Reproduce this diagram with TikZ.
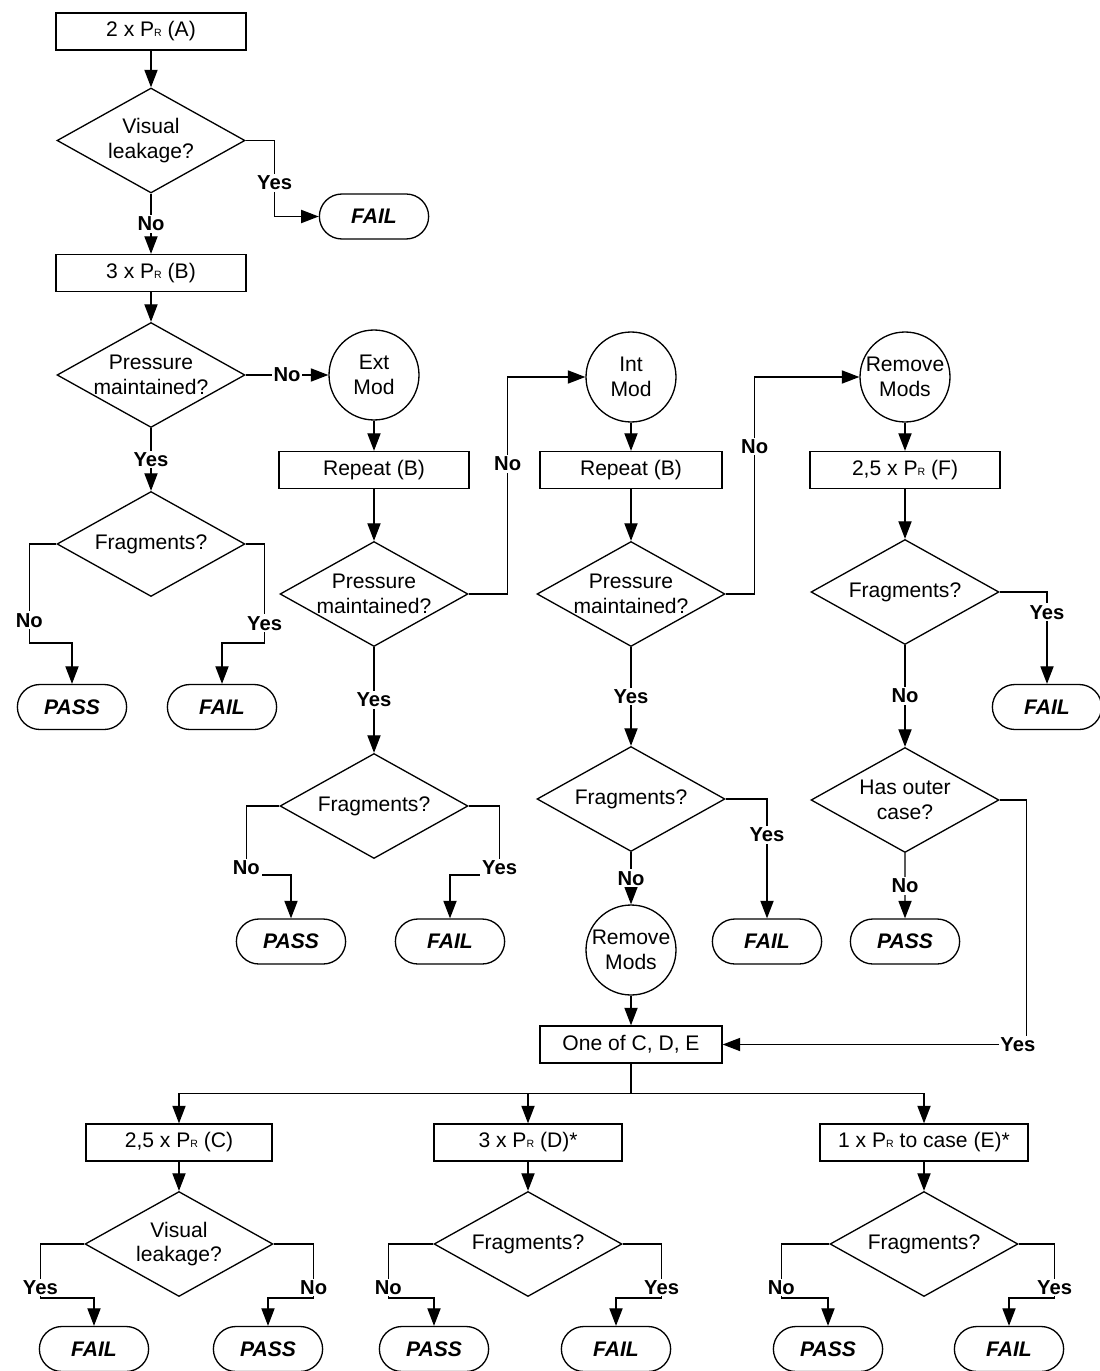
\documentclass[tikz,border=0pt]{standalone}
\usepackage{fontspec}
\setmainfont{Liberation Sans}
\usetikzlibrary{shapes.geometric,shapes.misc,arrows.meta,positioning,calc}

\newcommand{\pR}{P{\fontsize{6}{6}\selectfont R}}

\tikzset{
    box/.style={rectangle, draw, minimum width=3.8cm, minimum height=0.74cm, inner sep=1pt},
    term/.style={rounded rectangle, draw, minimum width=2.42cm, minimum height=0.9cm, font=\fontsize{12}{14}\selectfont\bfseries\itshape},
    dec/.style={diamond, draw, minimum width=3.76cm, minimum height=2.1cm, inner sep=0pt, label={[align=center]center:#1}},
    mod/.style={circle, draw, minimum size=1.8cm, inner sep=-2pt, align=center},
    lbl/.style={fill=white, inner sep=1pt, font=\fontsize{11.5}{13}\selectfont\bfseries},
    arrow/.style={-{Triangle[length=10pt,width=7.5pt]}}
}

\begin{document}
\begin{tikzpicture}[x=0.02cm, y=-0.02cm, line width=0.75pt, font=\fontsize{12}{14}\selectfont]
    \path[use as bounding box, fill=white] (0,0) rectangle (1099,1371);

    % First column
    \node[box] (bA) at (151,31.5) {2 x \pR{} (A)};
    \node[dec={Visual\\leakage?}] (dVis1) at (151,140.5) {};
    \node[term] (fail1) at (374,216.5) {FAIL};
    \node[box] (bB) at (151,273) {3 x \pR{} (B)};
    \node[dec={Pressure\\maintained?}] (dPr1) at (151,375) {};
    \node[dec={Fragments?}] (dFr1) at (151,544) {};
    \node[term] (pass1) at (72,707) {PASS};
    \node[term] (fail2) at (222,707) {FAIL};

    % External modification
    \node[mod] (ext) at (374,375) {Ext\\Mod};
    \node[box] (rep1) at (374,470) {Repeat (B)};
    \node[dec={Pressure\\maintained?}] (dPr2) at (374,594) {};
    \node[dec={Fragments?}] (dFr2) at (374,806) {};
    \node[term] (pass2) at (291,941.5) {PASS};
    \node[term] (fail3) at (450,941.5) {FAIL};

    % Internal modification
    \node[mod] (int) at (631,377) {Int\\Mod};
    \node[box, minimum width=3.64cm] (rep2) at (631,470) {Repeat (B)};
    \node[dec={Pressure\\maintained?}] (dPr3) at (631,594) {};
    \node[dec={Fragments?}] (dFr3) at (631,799) {};
    \node[term] (fail4) at (767,941.5) {FAIL};
    \node[mod] (rem1) at (631,950) {Remove\\Mods};
    \node[box, minimum width=3.64cm] (one) at (631,1044.5) {One of C, D, E};

    % Removed modifications
    \node[mod] (rem2) at (905,377) {Remove\\Mods};
    \node[box] (bF) at (905,470) {2,5 x \pR{} (F)};
    \node[dec={Fragments?}] (dFr4) at (905,592) {};
    \node[term] (fail5) at (1047,707) {FAIL};
    \node[dec={Has outer\\case?}] (dOut) at (905,800) {};
    \node[term] (pass3) at (905,941.5) {PASS};

    % Tests C, D, E
    \node[box, minimum width=3.72cm] (bC) at (179,1142.5) {2,5 x \pR{} (C)};
    \node[box, minimum width=3.76cm] (bD) at (528,1142.5) {3 x \pR{} (D)*};
    \node[box, minimum width=4.16cm] (bE) at (924,1142.5) {1 x \pR{} to case (E)*};
    \node[dec={Visual\\leakage?}] (dVis2) at (179,1244) {};
    \node[dec={Fragments?}] (dFr5) at (528,1244) {};
    \node[dec={Fragments?}] (dFr6) at (924,1244) {};
    \node[term] (fail6) at (94,1349) {FAIL};
    \node[term] (pass4) at (268,1349) {PASS};
    \node[term] (pass5) at (434,1349) {PASS};
    \node[term] (fail7) at (616,1349) {FAIL};
    \node[term] (pass6) at (828,1349) {PASS};
    \node[term] (fail8) at (1009,1349) {FAIL};

    % Arrows
    \draw[arrow] (bA) -- (dVis1);
    \draw[arrow] (dVis1.east) -- ++(29,0) |- node[lbl, pos=0.28]{Yes} (fail1.west);
    \draw[arrow] (dVis1) -- node[lbl]{No} (bB);
    \draw[arrow] (bB) -- (dPr1);
    \draw[arrow] (dPr1) -- node[lbl]{No} (ext);
    \draw[arrow] (dPr1) -- node[lbl]{Yes} (dFr1);
    \draw[arrow] (dFr1.west) -- ++(-27,0) -- node[lbl, pos=0.77]{No} ++(0,99) -| (pass1.north);
    \draw[arrow] (dFr1.east) -- ++(19,0) -- node[lbl, pos=0.8]{Yes} ++(0,99) -| (fail2.north);

    \draw[arrow] (ext) -- (rep1);
    \draw[arrow] (rep1) -- (dPr2);
    \draw[arrow] (dPr2.east) -- ++(39,0) |- node[lbl, pos=0.3]{No} (int.west);
    \draw[arrow] (dPr2) -- node[lbl]{Yes} (dFr2);
    \draw[arrow] (dFr2.west) -- ++(-33,0) -- ++(0,69) node[lbl, yshift=4pt]{No} -| (pass2.north);
    \draw[arrow] (dFr2.east) -- ++(31,0) -- ++(0,69) node[lbl, yshift=4pt]{Yes} -| (fail3.north);

    \draw[arrow] (int) -- (rep2);
    \draw[arrow] (rep2) -- (dPr3);
    \draw[arrow] (dPr3.east) -- ++(29,0) |- node[lbl, pos=0.34]{No} (rem2.west);
    \draw[arrow] (dPr3) -- node[lbl]{Yes} (dFr3);
    \draw[arrow] (dFr3.east) -| node[lbl, pos=0.65]{Yes} (fail4.north);
    \draw[arrow] (dFr3) -- node[lbl]{No} (rem1);
    \draw[arrow] (rem1) -- (one);

    \draw[arrow] (rem2) -- (bF);
    \draw[arrow] (bF) -- (dFr4);
    \draw[arrow] (dFr4.east) -| node[lbl, pos=0.61]{Yes} (fail5.north);
    \draw[arrow] (dFr4) -- node[lbl]{No} (dOut);
    \draw[arrow] (dOut) -- node[lbl]{No} (pass3);
    \draw[arrow] (dOut.east) -- ++(27,0) |- node[lbl, pos=0.5, xshift=-5pt]{Yes} (one.east);

    \draw[arrow] (one.south) -- ++(0,29.5) -| (bC.north);
    \draw[arrow] (one.south) -- ++(0,29.5) -| (bD.north);
    \draw[arrow] (one.south) -- ++(0,29.5) -| (bE.north);

    \draw[arrow] (bC) -- (dVis2);
    \draw[arrow] (bD) -- (dFr5);
    \draw[arrow] (bE) -- (dFr6);
    \draw[arrow] (dVis2.west) -- ++(-44,0) -- ++(0,54) node[lbl, yshift=6pt]{Yes} -| (fail6.north);
    \draw[arrow] (dVis2.east) -- ++(40,0) -- ++(0,54) node[lbl, yshift=6pt]{No} -| (pass4.north);
    \draw[arrow] (dFr5.west) -- ++(-45,0) -- ++(0,54) node[lbl, yshift=6pt]{No} -| (pass5.north);
    \draw[arrow] (dFr5.east) -- ++(39,0) -- ++(0,54) node[lbl, yshift=6pt]{Yes} -| (fail7.north);
    \draw[arrow] (dFr6.west) -- ++(-48,0) -- ++(0,54) node[lbl, yshift=6pt]{No} -| (pass6.north);
    \draw[arrow] (dFr6.east) -- ++(36,0) -- ++(0,54) node[lbl, yshift=6pt]{Yes} -| (fail8.north);
\end{tikzpicture}
\end{document}
